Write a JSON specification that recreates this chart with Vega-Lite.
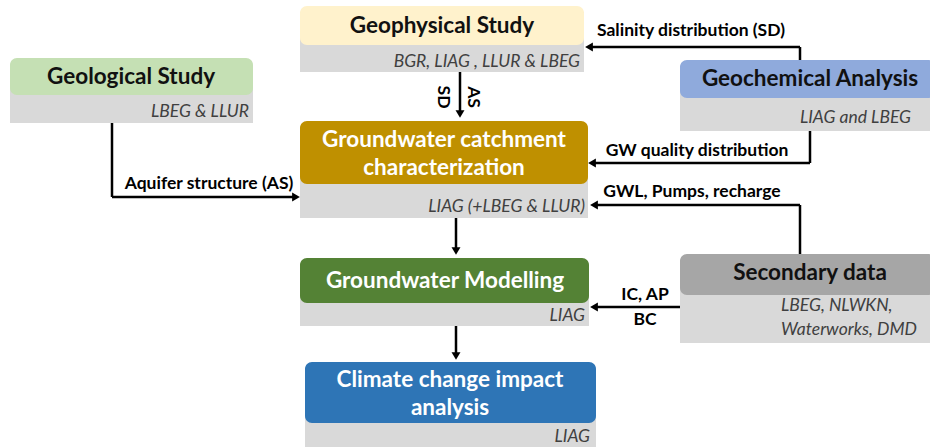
{
  "$schema": "https://vega.github.io/schema/vega-lite/v6.json",
  "width": 930,
  "height": 447,
  "autosize": {"type": "fit", "contains": "padding"},
  "padding": 0,
  "background": "white",
  "config": {"view": {"stroke": null}},
  "datasets": {
    "boxes": [
      {"id": "Geological", "x1": 10, "x2": 253, "y1": 58, "yb": 66, "yh": 95, "y2": 123, "tx": 131, "ty": 77, "title": "Geological Study", "tone": "light"},
      {"id": "Geophysical", "x1": 300, "x2": 584, "y1": 6, "yb": 12, "yh": 45, "y2": 72, "tx": 442, "ty": 26, "title": "Geophysical Study", "tone": "light"},
      {"id": "Catchment", "x1": 300, "x2": 588, "y1": 121, "yb": 128, "yh": 184, "y2": 218, "tx": 444, "ty": 140, "title": "Groundwater catchment\ncharacterization", "tone": "dark"},
      {"id": "Geochemical", "x1": 680, "x2": 935, "y1": 60, "yb": 66, "yh": 98, "y2": 131, "tx": 810, "ty": 79, "title": "Geochemical Analysis", "tone": "light"},
      {"id": "Secondary", "x1": 680, "x2": 935, "y1": 254, "yb": 260, "yh": 295, "y2": 343, "tx": 810, "ty": 273, "title": "Secondary data", "tone": "light"},
      {"id": "Modelling", "x1": 300, "x2": 589, "y1": 258, "yb": 264, "yh": 303, "y2": 326, "tx": 445, "ty": 281, "title": "Groundwater Modelling", "tone": "dark"},
      {"id": "Climate", "x1": 305, "x2": 596, "y1": 362, "yb": 368, "yh": 423, "y2": 447, "tx": 450, "ty": 380, "title": "Climate change impact\nanalysis", "tone": "dark"}
    ],
    "subsRight": [
      {"t": "LBEG & LLUR", "x": 249, "y": 112},
      {"t": "BGR, LIAG , LLUR & LBEG", "x": 580, "y": 62},
      {"t": "LIAG (+LBEG & LLUR)", "x": 585, "y": 207},
      {"t": "LIAG and LBEG", "x": 911, "y": 118},
      {"t": "LIAG", "x": 585, "y": 316},
      {"t": "LIAG", "x": 590, "y": 437}
    ],
    "subsLeft": [
      {"t": "LBEG, NLWKN,", "x": 781, "y": 306},
      {"t": "Waterworks, DMD", "x": 781, "y": 330}
    ],
    "segs": [
      {"x": 112, "y": 123, "x2": 112, "y2": 197},
      {"x": 112, "y": 197, "x2": 294, "y2": 197},
      {"x": 460, "y": 72, "x2": 460, "y2": 113},
      {"x": 800, "y": 60, "x2": 800, "y2": 47},
      {"x": 800, "y": 47, "x2": 590, "y2": 47},
      {"x": 810, "y": 131, "x2": 810, "y2": 163},
      {"x": 810, "y": 163, "x2": 594, "y2": 163},
      {"x": 800, "y": 254, "x2": 800, "y2": 205},
      {"x": 800, "y": 205, "x2": 596, "y2": 205},
      {"x": 680, "y": 307, "x2": 596, "y2": 307},
      {"x": 456, "y": 218, "x2": 456, "y2": 249},
      {"x": 456, "y": 326, "x2": 456, "y2": 354}
    ],
    "heads": [
      {"x": 296, "y": 197, "d": "right"},
      {"x": 460, "y": 114, "d": "down"},
      {"x": 589, "y": 47, "d": "left"},
      {"x": 592, "y": 163, "d": "left"},
      {"x": 594, "y": 205, "d": "left"},
      {"x": 594, "y": 307, "d": "left"},
      {"x": 456, "y": 251, "d": "down"},
      {"x": 456, "y": 356, "d": "down"}
    ],
    "labels": [
      {"t": "Aquifer structure (AS)", "x": 209, "y": 184},
      {"t": "Salinity distribution (SD)", "x": 691, "y": 31},
      {"t": "GW quality distribution", "x": 697, "y": 151},
      {"t": "GWL, Pumps, recharge", "x": 692, "y": 192},
      {"t": "IC, AP", "x": 645, "y": 295},
      {"t": "BC", "x": 645, "y": 320}
    ],
    "rotLabels": [
      {"t": "SD", "x": 443, "y": 97},
      {"t": "AS", "x": 473, "y": 97}
    ]
  },
  "layer": [
    {
      "data": {"name": "boxes"},
      "mark": {"type": "rect", "fill": "#D9D9D9", "clip": true},
      "encoding": {
        "x": {"field": "x1", "type": "quantitative", "scale": {"domain": [0, 930], "nice": false, "zero": false}, "axis": null},
        "x2": {"field": "x2"},
        "y": {"field": "yb", "type": "quantitative", "scale": {"domain": [0, 447], "nice": false, "zero": false, "reverse": true}, "axis": null},
        "y2": {"field": "y2"}
      }
    },
    {
      "data": {"name": "boxes"},
      "mark": {"type": "rect", "cornerRadius": 7, "clip": true},
      "encoding": {
        "x": {"field": "x1", "type": "quantitative"},
        "x2": {"field": "x2"},
        "y": {"field": "y1", "type": "quantitative"},
        "y2": {"field": "yh"},
        "fill": {
          "field": "id", "type": "nominal", "legend": null,
          "scale": {
            "domain": ["Geological", "Geophysical", "Catchment", "Geochemical", "Secondary", "Modelling", "Climate"],
            "range": ["#C5E0B4", "#FFF2CC", "#BF9000", "#8FAADC", "#A6A6A6", "#548235", "#2E75B6"]
          }
        }
      }
    },
    {
      "data": {"name": "boxes"},
      "mark": {"type": "text", "font": "Lato", "fontSize": 22.5, "fontWeight": "bold", "lineBreak": "\n", "lineHeight": 28, "baseline": "middle", "align": "center"},
      "encoding": {
        "x": {"field": "tx", "type": "quantitative"},
        "y": {"field": "ty", "type": "quantitative"},
        "text": {"field": "title"},
        "color": {"field": "tone", "type": "nominal", "legend": null, "scale": {"domain": ["light", "dark"], "range": ["#111111", "#FFFFFF"]}}
      }
    },
    {
      "data": {"name": "subsRight"},
      "mark": {"type": "text", "font": "Lato", "fontSize": 17.5, "fontStyle": "italic", "align": "right", "baseline": "middle", "color": "#404040"},
      "encoding": {
        "x": {"field": "x", "type": "quantitative"},
        "y": {"field": "y", "type": "quantitative"},
        "text": {"field": "t"}
      }
    },
    {
      "data": {"name": "subsLeft"},
      "mark": {"type": "text", "font": "Lato", "fontSize": 17.5, "fontStyle": "italic", "align": "left", "baseline": "middle", "color": "#404040"},
      "encoding": {
        "x": {"field": "x", "type": "quantitative"},
        "y": {"field": "y", "type": "quantitative"},
        "text": {"field": "t"}
      }
    },
    {
      "data": {"name": "segs"},
      "mark": {"type": "rule", "color": "#000000", "strokeWidth": 2.5},
      "encoding": {
        "x": {"field": "x", "type": "quantitative"},
        "y": {"field": "y", "type": "quantitative"},
        "x2": {"field": "x2"},
        "y2": {"field": "y2"}
      }
    },
    {
      "data": {"name": "heads"},
      "mark": {"type": "point", "filled": true, "color": "#000000", "opacity": 1, "size": 80},
      "encoding": {
        "x": {"field": "x", "type": "quantitative"},
        "y": {"field": "y", "type": "quantitative"},
        "shape": {"field": "d", "type": "nominal", "legend": null, "scale": {"domain": ["right", "left", "down"], "range": ["triangle-right", "triangle-left", "triangle-down"]}}
      }
    },
    {
      "data": {"name": "labels"},
      "mark": {"type": "text", "font": "Lato", "fontSize": 17.5, "fontWeight": "bold", "align": "center", "baseline": "middle", "color": "#000000"},
      "encoding": {
        "x": {"field": "x", "type": "quantitative"},
        "y": {"field": "y", "type": "quantitative"},
        "text": {"field": "t"}
      }
    },
    {
      "data": {"name": "rotLabels"},
      "mark": {"type": "text", "font": "Lato", "fontSize": 17.5, "fontWeight": "bold", "align": "center", "baseline": "middle", "color": "#000000", "angle": 90},
      "encoding": {
        "x": {"field": "x", "type": "quantitative"},
        "y": {"field": "y", "type": "quantitative"},
        "text": {"field": "t"}
      }
    }
  ]
}
